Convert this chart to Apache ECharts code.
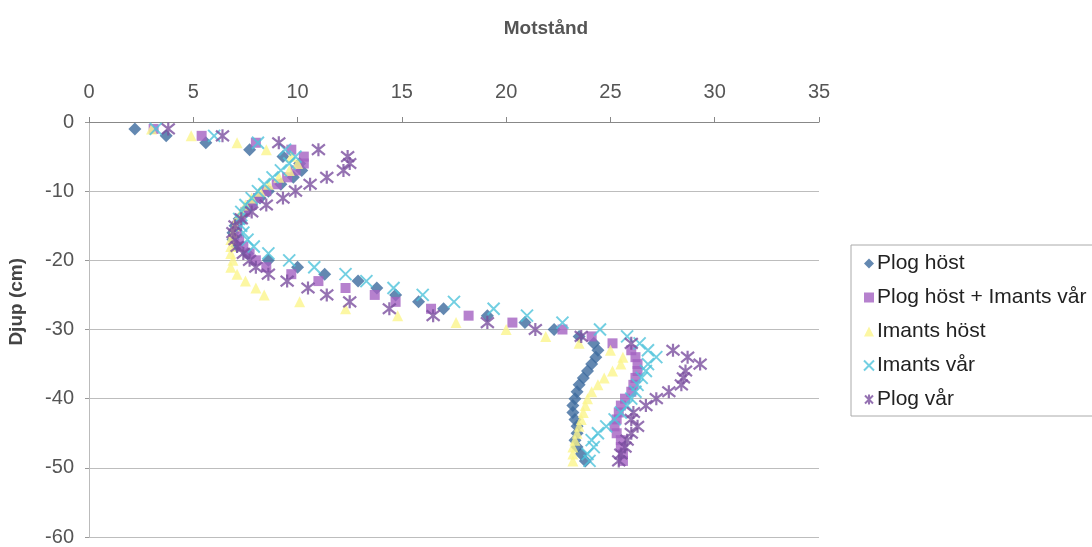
<!DOCTYPE html>
<html>
<head>
<meta charset="utf-8">
<script src="https://cdn.jsdelivr.net/npm/echarts@6/dist/echarts.min.js"></script>
<style>
  html, body { margin: 0; padding: 0; background: #fff; }
  #chart { width: 1092px; height: 547px; }
</style>
</head>
<body>
<div id="chart"></div>
<script>
// depth in cm (negative = below surface)
const depths = [];
for (let d = 1; d <= 49; d++) depths.push(-d);

const xTicks = [0, 5, 10, 15, 20, 25, 30, 35];
const yTicks = [0, -10, -20, -30, -40, -50, -60];

const seriesNames = ['Plog höst', 'Plog höst + Imants vår', 'Imants höst', 'Imants vår', 'Plog vår'];

// values, one per cm of depth
const plogHost = [2.2, 3.7, 5.6, 7.7, 9.3, 10.1, 10.2, 9.8, 9.2, 8.6, 8.2, 7.8, 7.5, 7.2, 7.0, 6.9, 6.9, 7.1, 7.6, 8.6,
  10.0, 11.3, 12.9, 13.8, 14.7, 15.8, 17.0, 19.1, 20.9, 22.3, 23.5, 24.2, 24.4, 24.3, 24.1, 23.9, 23.7, 23.5, 23.4, 23.3,
  23.2, 23.2, 23.3, 23.4, 23.4, 23.3, 23.4, 23.6, 23.8];
const plogHostImantsVar = [3.1, 5.4, 8.0, 9.7, 10.3, 10.3, 9.9, 9.5, 9.0, 8.5, 8.1, 7.8, 7.5, 7.3, 7.1, 7.1, 7.2, 7.4, 7.7, 8.0,
  8.5, 9.7, 11.0, 12.3, 13.7, 14.7, 16.4, 18.2, 20.3, 22.7, 24.1, 25.1, 26.0, 26.2, 26.3, 26.3, 26.2, 26.1, 26.0, 25.7,
  25.5, 25.4, 25.3, 25.2, 25.3, 25.5, 25.5, 25.6, 25.6];
const imantsHost = [3.0, 4.9, 7.1, 8.5, 9.7, 10.0, 9.6, 9.1, 8.6, 8.2, 7.8, 7.5, 7.3, 7.1, 7.0, 6.9, 6.8, 6.8, 6.8, 6.9,
  6.8, 7.1, 7.5, 8.0, 8.4, 10.1, 12.3, 14.8, 17.6, 20.0, 21.9, 23.5, 25.0, 25.6, 25.5, 25.1, 24.7, 24.4, 24.1, 23.9,
  23.8, 23.7, 23.6, 23.5, 23.4, 23.3, 23.2, 23.2, 23.2];
const imantsVar = [3.2, 6.0, 8.1, 9.4, 9.9, 9.6, 9.2, 8.8, 8.4, 8.1, 7.8, 7.5, 7.3, 7.2, 7.3, 7.4, 7.6, 7.9, 8.6, 9.6,
  10.8, 12.3, 13.3, 14.6, 16.0, 17.5, 19.4, 21.0, 22.7, 24.5, 25.8, 26.4, 26.8, 27.2, 26.8, 26.7, 26.5, 26.3, 26.2, 26.0,
  25.8, 25.5, 25.2, 24.8, 24.4, 24.1, 24.2, 23.9, 24.0];
const plogVar = [3.8, 6.4, 9.1, 11.0, 12.4, 12.5, 12.2, 11.4, 10.6, 9.9, 9.3, 8.5, 7.8, 7.3, 7.0, 6.9, 7.0, 7.1, 7.4, 7.7,
  8.0, 8.6, 9.5, 10.5, 11.4, 12.5, 14.4, 16.5, 19.1, 21.4, 23.6, 26.0, 28.0, 28.7, 29.3, 28.6, 28.5, 28.4, 27.8, 27.2,
  26.7, 26.1, 26.0, 26.3, 26.0, 25.8, 25.7, 25.5, 25.4];

const toPoints = vals => vals.map((v, i) => [v, depths[i]]);

const chart = echarts.init(document.getElementById('chart'));

const option = {
  animation: false,
  backgroundColor: '#fff',
  textStyle: { fontFamily: 'Liberation Sans, Arial, sans-serif' },
  title: {
    text: 'Motstånd',
    left: 'center',
    top: 14,
    textStyle: { fontSize: 19, fontWeight: 'bold', color: '#555' }
  },
  graphic: [{
    type: 'text',
    left: 7,
    top: 258,
    rotation: Math.PI / 2,
    style: {
      text: 'Djup (cm)',
      font: 'bold 19px "Liberation Sans", Arial, sans-serif',
      fill: '#444'
    }
  }],
  legend: {
    orient: 'vertical',
    left: 851,
    top: 245,
    padding: [8, 40, 6, 12],
    itemWidth: 10,
    itemHeight: 10,
    itemGap: 13,
    borderColor: '#aaa',
    borderWidth: 1,
    textStyle: { fontSize: 21, color: '#222', padding: [0, 0, 0, -2] },
    data: seriesNames
  },
  grid: { left: 89, right: 273, top: 122, bottom: 9 },
  xAxis: {
    type: 'value',
    position: 'top',
    min: xTicks[0],
    max: xTicks[xTicks.length - 1],
    interval: 5,
    axisLine: { show: true, lineStyle: { color: '#888', width: 1 } },
    axisTick: { show: true, inside: false, length: 5, lineStyle: { color: '#888' } },
    axisLabel: { fontSize: 20, color: '#555', margin: 20 },
    splitLine: { show: false }
  },
  yAxis: {
    type: 'value',
    min: yTicks[yTicks.length - 1],
    max: yTicks[0],
    interval: 10,
    axisLine: { show: true, lineStyle: { color: '#bbb', width: 1 } },
    axisTick: { show: true, length: 4, lineStyle: { color: '#999' } },
    axisLabel: { fontSize: 20, color: '#555', margin: 15 },
    splitLine: { show: true, lineStyle: { color: '#bdbdbd', width: 1 } }
  },
  series: [
    {
      name: seriesNames[0],
      type: 'scatter',
      symbol: 'diamond',
      symbolSize: 13,
      itemStyle: { color: '#3C6A9D' },
      data: toPoints(plogHost)
    },
    {
      name: seriesNames[1],
      type: 'scatter',
      symbol: 'rect',
      symbolSize: 10,
      itemStyle: { color: '#A462C2' },
      data: toPoints(plogHostImantsVar)
    },
    {
      name: seriesNames[2],
      type: 'scatter',
      symbol: 'triangle',
      symbolSize: 11,
      itemStyle: { color: '#FBF58C' },
      data: toPoints(imantsHost)
    },
    {
      name: seriesNames[3],
      type: 'scatter',
      symbol: 'path://M0,0L10,10M10,0L0,10',
      symbolSize: 12,
      itemStyle: { color: 'rgba(0,0,0,0)', borderColor: '#4FC3DB', borderWidth: 2 },
      data: toPoints(imantsVar)
    },
    {
      name: seriesNames[4],
      type: 'scatter',
      symbol: 'path://M1,1L9,9M9,1L1,9M5,0L5,10',
      symbolSize: 13,
      itemStyle: { color: 'rgba(0,0,0,0)', borderColor: '#7A4F9F', borderWidth: 2.2 },
      data: toPoints(plogVar)
    }
  ]
};

chart.setOption(option);
</script>
</body>
</html>
